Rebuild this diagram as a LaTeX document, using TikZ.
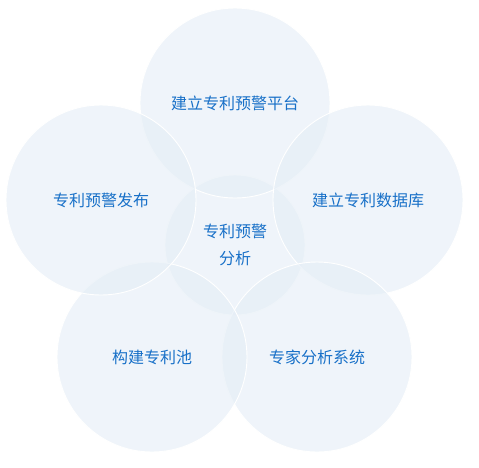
\documentclass[tikz,border=0pt]{standalone}
\usepackage{fontspec}
\setmainfont{Noto Sans CJK SC}
\usetikzlibrary{positioning}
\definecolor{petal}{RGB}{228,237,246}
\definecolor{labelblue}{RGB}{24,112,200}

\begin{document}
\begin{tikzpicture}[
    x=1pt, y=-1pt,
    petal/.style={circle, draw=white, line width=0.9pt, fill=petal, fill opacity=0.6, minimum size=190pt, inner sep=0pt},
    hub/.style={petal, minimum size=140pt},
    label/.style={text=labelblue, font=\fontsize{16}{27}\selectfont, align=center, text opacity=1}
]
    \useasboundingbox (0,0) rectangle (479,467);
    \node[hub] (c0) at (235,245) {};
    \node[petal] (c1) at (235,103) {};
    \node[petal] (c2) at (368,200) {};
    \node[petal] (c3) at (317,357) {};
    \node[petal] (c4) at (152,357) {};
    \node[petal] (c5) at (101,200) {};
    \node[label] at (c0) {专利预警\\分析};
    \node[label] at (c1) {建立专利预警平台};
    \node[label] at (c2) {建立专利数据库};
    \node[label] at (c3) {专家分析系统};
    \node[label] at (c4) {构建专利池};
    \node[label] at (c5) {专利预警发布};
\end{tikzpicture}
\end{document}
